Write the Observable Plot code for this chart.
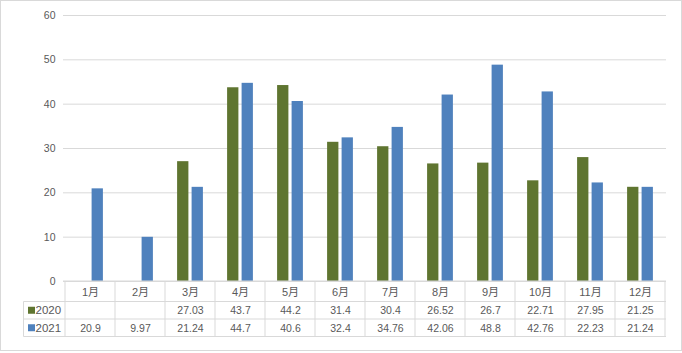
<!DOCTYPE html>
<html>
<head>
<meta charset="utf-8">
<script src="https://cdn.jsdelivr.net/npm/d3@7"></script>
<script src="https://cdn.jsdelivr.net/npm/@observablehq/plot@0.6"></script>
<style>
  html, body { margin: 0; padding: 0; background: #fff; }
  #wrap { position: relative; width: 682px; height: 353px; }
  #border { position: absolute; left: 0; top: 0; width: 682px; height: 351px; box-sizing: border-box; border: 1px solid #d9d9d9; pointer-events: none; }
</style>
</head>
<body>
<div id="wrap"><div id="border"></div></div>
<script>
const months = ["1月","2月","3月","4月","5月","6月","7月","8月","9月","10月","11月","12月"];
const v2020 = [null, null, 27.03, 43.7, 44.2, 31.4, 30.4, 26.52, 26.7, 22.71, 27.95, 21.25];
const v2021 = [20.9, 9.97, 21.24, 44.7, 40.6, 32.4, 34.76, 42.06, 48.8, 42.76, 22.23, 21.24];
const series = ["2020", "2021"];
const colors = ["#5f7530", "#4f81bd"];
const yTicks = [0, 10, 20, 30, 40, 50, 60];

const d2020 = months.map((m, i) => ({month: m, value: v2020[i]}));
const d2021 = months.map((m, i) => ({month: m, value: v2021[i]}));

const fmt = v => v == null ? "" : String(v);
const textColor = "#595959";
const gridColor = "#d9d9d9";

function tableMark(index, scales, values, dim) {
  const g = d3.create("svg:g");
  const x = scales.x;
  const bw = x.bandwidth ? x.bandwidth() : (dim.width - dim.marginLeft - dim.marginRight) / months.length;
  const top = dim.height - dim.marginBottom;
  const left = dim.marginLeft, right = dim.width - dim.marginRight;
  const r1 = top + 20.5, r2 = r1 + 17.5, r3 = r2 + 17.5;
  const tableLeft = 23.5;
  const lines = [
    [left, top, right, top],
    [tableLeft, r1, right, r1],
    [tableLeft, r2, right, r2],
    [tableLeft, r3, right, r3],
    [tableLeft, r1, tableLeft, r3]
  ];
  months.forEach(m => lines.push([x(m), top, x(m), r3]));
  lines.push([x(months[months.length - 1]) + bw, top, x(months[months.length - 1]) + bw, r3]);
  g.selectAll("line").data(lines).join("line")
    .attr("x1", d => d[0]).attr("y1", d => d[1]).attr("x2", d => d[2]).attr("y2", d => d[3])
    .attr("stroke", gridColor).attr("stroke-width", 1);
  series.forEach((s, i) => {
    const cy = (i === 0 ? (r1 + r2) / 2 : (r2 + r3) / 2);
    g.append("rect").attr("x", 28).attr("y", cy - 3.5).attr("width", 7).attr("height", 7).attr("fill", colors[i]);
    g.append("text").attr("x", 35.5).attr("y", cy).attr("dy", "0.35em")
      .attr("text-anchor", "start")
      .attr("fill", textColor).attr("font-size", 11.5).text(s);
  });
  return g.node();
}

const plot = Plot.plot({
  width: 682,
  height: 353,
  marginLeft: 63,
  marginRight: 16,
  marginTop: 15,
  marginBottom: 72,
  style: {fontFamily: "'Liberation Sans', 'Noto Sans CJK SC', sans-serif", fontSize: "10.5px", color: textColor, background: "transparent"},
  x: {domain: months, padding: 0, axis: null},
  y: {domain: [0, 60], ticks: 6, tickSize: 0, tickPadding: 8, label: null},
  marks: [
    Plot.ruleY(yTicks, {stroke: gridColor, strokeWidth: 1}),
    Plot.barY(d2020, {x: "month", y: "value", fill: colors[0], insetLeft: 12.1, insetRight: 26.6}),
    Plot.barY(d2021, {x: "month", y: "value", fill: colors[1], insetLeft: 26.6, insetRight: 12.1}),
    tableMark,
    Plot.text(months, {x: d => d, text: d => d, frameAnchor: "bottom", dy: 10.5, lineAnchor: "middle", fill: textColor, fontSize: 11}),
    Plot.text(d2020, {x: "month", text: d => fmt(d.value), frameAnchor: "bottom", dy: 29.5, lineAnchor: "middle", fill: textColor, fontSize: 10.5}),
    Plot.text(d2021, {x: "month", text: d => fmt(d.value), frameAnchor: "bottom", dy: 47, lineAnchor: "middle", fill: textColor, fontSize: 10.5})
  ]
});
document.getElementById("wrap").insertBefore(plot, document.getElementById("border"));
plot.style.position = "absolute";
plot.style.left = "0";
plot.style.top = "0";
</script>
</body>
</html>
